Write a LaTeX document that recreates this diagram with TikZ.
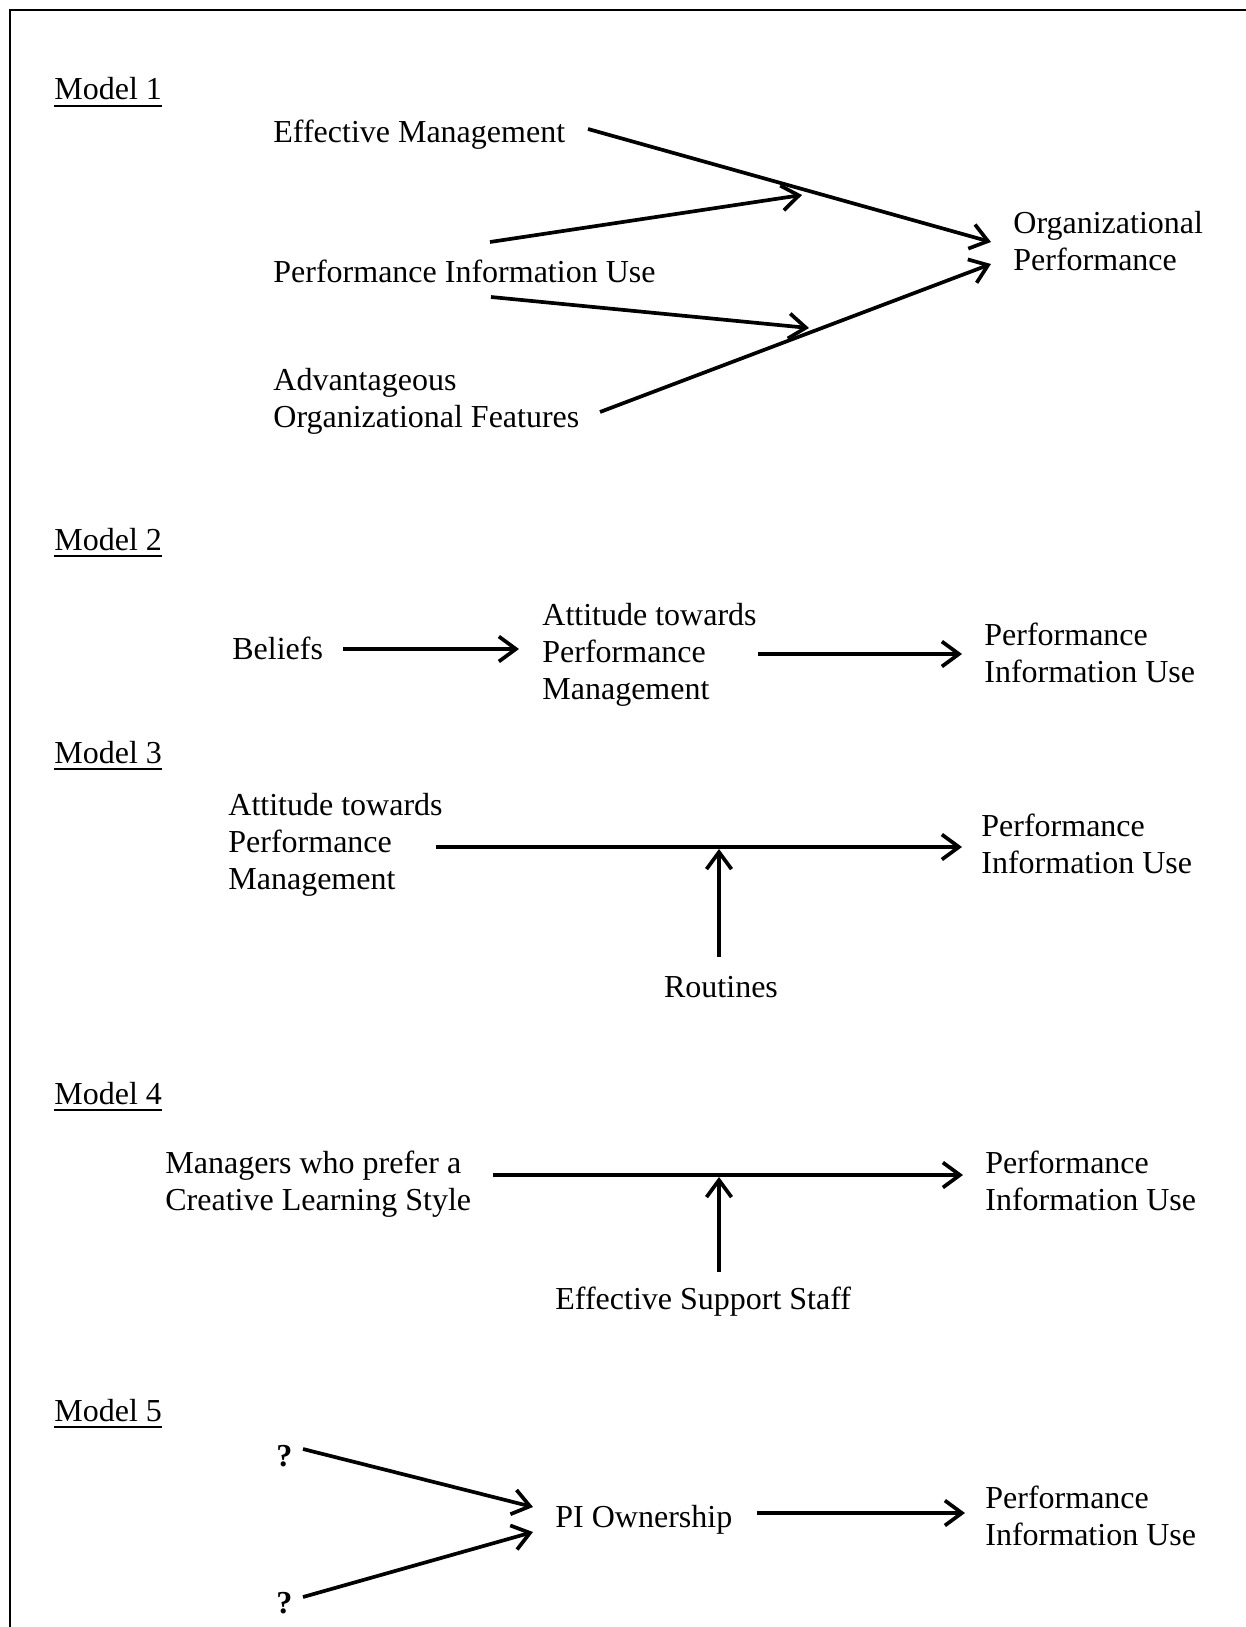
\documentclass[tikz,border=0pt]{standalone}
\usepackage{fontspec}
\setmainfont{Liberation Serif}
\usetikzlibrary{arrows.meta}
\newcommand{\modelul}[1]{\setbox0\hbox{#1}\rlap{\rule[-3.6pt]{\wd0}{1pt}}\box0}
\newcommand{\twolines}[2]{\begin{tabular}[t]{@{}l@{}}#1\\#2\end{tabular}}
\newcommand{\threelines}[3]{\begin{tabular}[t]{@{}l@{}}#1\\#2\\#3\end{tabular}}
\begin{document}
\begin{tikzpicture}[x={(0.5pt,0)},y={(0,-0.5pt)},
  lbl/.style={anchor=base west,inner sep=0pt,font=\fontsize{16}{18.5}\selectfont},
  lblc/.style={anchor=base,inner sep=0pt,font=\fontsize{16}{18.5}\selectfont},
  arr/.style={line width=1.85pt,-{Straight Barb[length=8.5pt,width=12.5pt]}},
  frame/.style={line width=1pt}]
\useasboundingbox (0,0) rectangle (1246,1627);
\fill[white] (0,0) rectangle (1246,1627);
\draw[frame] (10,1640) -- (10,10) -- (1260,10);

% ---------------- Model 1
\node[lbl] (m1) at (54,100) {\modelul{Model 1}};
\node[lbl] (em) at (273,142) {Effective Management};
\node[lbl] (piu1) at (273,282) {Performance Information Use};
\node[lbl] (aof) at (273,390) {\twolines{Advantageous}{Organizational Features}};
\node[lbl] (op) at (1013,233) {\twolines{Organizational}{Performance}};
\coordinate (emS) at (588,129);
\coordinate (opT1) at (991,242);
\coordinate (piuS1) at (490,242);
\coordinate (mod1) at (802,195);
\coordinate (piuS2) at (491,297);
\coordinate (mod2) at (809,328);
\coordinate (aofS) at (600,412);
\coordinate (opT2) at (991,264);
\draw[arr] (emS) -- (opT1);
\draw[arr] (piuS1) -- (mod1);
\draw[arr] (piuS2) -- (mod2);
\draw[arr] (aofS) -- (opT2);

% ---------------- Model 2
\node[lbl] (m2) at (54,550) {\modelul{Model 2}};
\node[lbl] (bel) at (232,659) {Beliefs};
\node[lbl] (atp2) at (542,625) {\threelines{Attitude towards}{Performance}{Management}};
\node[lbl] (piu2) at (984,645) {\twolines{Performance}{Information Use}};
\coordinate (belE) at (343,649);
\coordinate (atp2W) at (519,649);
\coordinate (atp2E) at (758,654);
\coordinate (piu2W) at (962,654);
\draw[arr] (belE) -- (atp2W);
\draw[arr] (atp2E) -- (piu2W);

% ---------------- Model 3
\node[lbl] (m3) at (54,763) {\modelul{Model 3}};
\node[lbl] (atp3) at (228,815) {\threelines{Attitude towards}{Performance}{Management}};
\node[lbl] (piu3) at (981,836) {\twolines{Performance}{Information Use}};
\node[lblc] (rout) at (721,997) {Routines};
\coordinate (atp3E) at (436,847);
\coordinate (piu3W) at (962,847);
\coordinate (routN) at (719,957);
\coordinate (mod3) at (719,849);
\draw[arr] (atp3E) -- (piu3W);
\draw[arr] (routN) -- (mod3);

% ---------------- Model 4
\node[lbl] (m4) at (54,1104) {\modelul{Model 4}};
\node[lbl] (mgr) at (165,1173) {\twolines{Managers who prefer a}{Creative Learning Style}};
\node[lbl] (piu4) at (985,1173) {\twolines{Performance}{Information Use}};
\node[lbl] (ess) at (555,1309) {Effective Support Staff};
\coordinate (mgrE) at (493,1175);
\coordinate (piu4W) at (963,1175);
\coordinate (essN) at (719,1272);
\coordinate (mod4) at (719,1177);
\draw[arr] (mgrE) -- (piu4W);
\draw[arr] (essN) -- (mod4);

% ---------------- Model 5
\node[lbl] (m5) at (54,1421) {\modelul{Model 5}};
\node[lbl] (q1) at (276,1466) {\textbf{?}};
\node[lbl] (q2) at (276,1613) {\textbf{?}};
\node[lbl] (pio) at (555,1527) {PI Ownership};
\node[lbl] (piu5) at (985,1508) {\twolines{Performance}{Information Use}};
\coordinate (q1E) at (303,1449);
\coordinate (pioW1) at (533,1507);
\coordinate (q2E) at (303,1597);
\coordinate (pioW2) at (533,1532);
\coordinate (pioE) at (757,1513);
\coordinate (piu5W) at (965,1513);
\draw[arr] (q1E) -- (pioW1);
\draw[arr] (q2E) -- (pioW2);
\draw[arr] (pioE) -- (piu5W);
\end{tikzpicture}
\end{document}
